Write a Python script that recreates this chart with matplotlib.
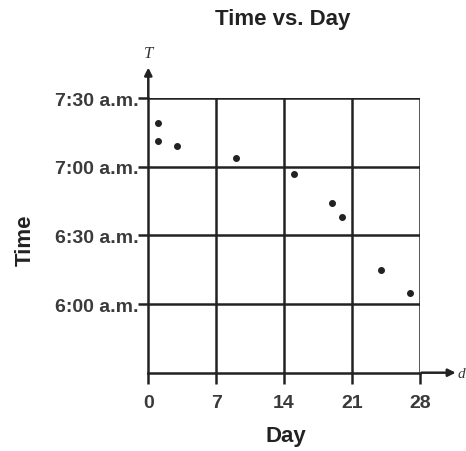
import matplotlib
matplotlib.use("Agg")
import matplotlib.pyplot as plt

# Data (minutes since midnight)
days = [1, 1, 3, 9, 15, 19, 20, 24, 27]
times = ["7:19", "7:11", "7:09", "7:04", "6:57", "6:44", "6:38", "6:15", "6:05"]
xticks = [0, 7, 14, 21, 28]
ytick_labels = ["6:00 a.m.", "6:30 a.m.", "7:00 a.m.", "7:30 a.m."]
ytick_times = ["6:00", "6:30", "7:00", "7:30"]

def to_min(s):
    h, m = s.split(":")
    return int(h) * 60 + int(m)

tmin = [to_min(t) for t in times]
ytv = [to_min(t) for t in ytick_times]

plt.rcParams['font.family'] = ['Liberation Sans', 'DejaVu Sans']
fig = plt.figure(figsize=(4.66, 4.52), dpi=100)
ax = fig.add_axes([148.3/466, 1-373.7/452, 271.4/466, (373.7-99)/452])

ax.set_xlim(0, 28)
ax.set_ylim(330, 450)

lc = "#222222"
lw = 1.8
for x in xticks[1:]:
    ax.axvline(x, color=lc, lw=lw, zorder=1)
for y in ytv:
    ax.axhline(y, color=lc, lw=lw, zorder=1)
for s in ["top", "right"]:
    ax.spines[s].set_visible(False)
for s in ["left", "bottom"]:
    ax.spines[s].set_linewidth(lw)
    ax.spines[s].set_color(lc)

tc = "#3a3a3a"
ax.set_xticks(xticks)
ax.set_xticklabels([str(x) for x in xticks])
ax.set_yticks(ytv)
ax.set_yticklabels(ytick_labels)
ax.tick_params(axis='x', length=8, width=lw, color=lc, pad=7, labelsize=14, labelcolor=tc)
ax.tick_params(axis='y', length=7, width=lw, color=lc, pad=0, labelsize=14, labelcolor=tc)
for lab in ax.get_xticklabels() + ax.get_yticklabels():
    lab.set_fontweight("bold")

ax.scatter(days, tmin, s=16, color="#222222", zorder=3)

# arrows
ax.annotate("", xy=(0, 464.5), xytext=(0, 449), annotation_clip=False,
            arrowprops=dict(arrowstyle="-|>", color=lc, lw=lw, mutation_scale=11))
ax.annotate("", xy=(32.0, 330), xytext=(27.9, 330), annotation_clip=False,
            arrowprops=dict(arrowstyle="-|>", color=lc, lw=lw, mutation_scale=11))
ax.text(0, 466, "T", ha="center", va="bottom", fontsize=12, style="italic",
        color="#333333", clip_on=False, family="Liberation Serif")
fig.text(458/466, 1-375/452, "d", ha="left", va="center", fontsize=11, style="italic",
         color="#333333", family="Liberation Serif")

fig.text(283/466, 1-20/452, "Time vs. Day", ha="center", va="center",
         fontsize=16, fontweight="bold", color="#222222")
fig.text(286/466, 1-437/452, "Day", ha="center", va="center",
         fontsize=16, fontweight="bold", color="#222222")
fig.text(25/466, 1-240/452, "Time", ha="center", va="center", rotation=90,
         fontsize=16, fontweight="bold", color="#222222")

fig.savefig("out.png", dpi=100)
